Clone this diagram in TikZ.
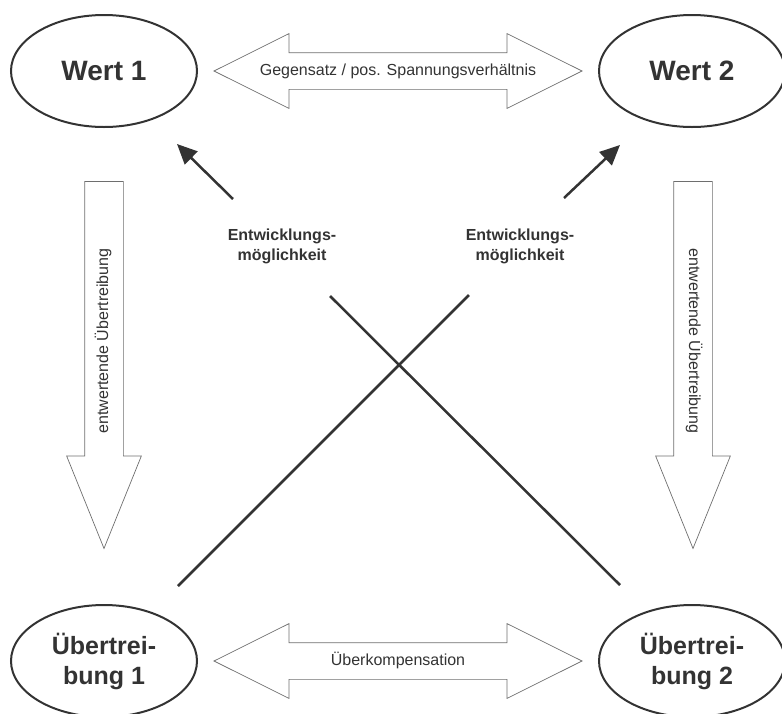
\documentclass[tikz,border=0pt]{standalone}
\usepackage{fontspec}
\setmainfont{Liberation Sans}
\usetikzlibrary{shapes,arrows.meta,calc,positioning}
\definecolor{ink}{HTML}{333333}
\definecolor{rim}{HTML}{6E6E6E}

\begin{document}
\begin{tikzpicture}[x=1pt, y=-1pt,
  wert/.style={ellipse, draw=ink, line width=2pt, minimum width=186pt, minimum height=112pt, inner sep=0pt, text=ink, font=\bfseries\fontsize{28}{30}\selectfont, align=center},
  twoway/.style={double arrow, draw=rim, line width=0.7pt, double arrow head extend=19pt, double arrow tip angle=53, minimum height=368pt, text height=12pt, text depth=4pt, inner ysep=10pt, inner xsep=0pt, text=ink, font=\fontsize{16}{18}\selectfont},
  oneway/.style={single arrow, draw=rim, line width=0.7pt, single arrow head extend=18pt, single arrow tip angle=44, minimum height=367pt, text height=12pt, text depth=4pt, inner ysep=11pt, inner xsep=0pt, text=ink, font=\fontsize{16}{18}\selectfont},
  hint/.style={text=ink, font=\bfseries\fontsize{16}{20}\selectfont, align=center},
  devel/.style={draw=ink, line width=2.5pt, -{Triangle[length=20pt,width=18pt]}},
  cross/.style={draw=ink, line width=2.5pt}]

  \useasboundingbox (0,0) rectangle (782,713);
  \clip (0,0) rectangle (782,713);

  % Werte
  \node[wert] (w1) at (104,71) {Wert 1};
  \node[wert] (w2) at (692,71) {Wert 2};

  % Uebertreibungen
  \node[wert, font=\bfseries\fontsize{25}{30}\selectfont] (u1) at (104,661) {Übertrei-\\bung 1};
  \node[wert, font=\bfseries\fontsize{25}{30}\selectfont] (u2) at (692,661) {Übertrei-\\bung 2};

  % Blockpfeile
  \node[twoway] (gs) at ($(w1)!0.5!(w2)$) {Gegensatz / pos. Spannungsverhältnis};
  \node[twoway] (uk) at ($(u1)!0.5!(u2)$) {Überkompensation};
  \node[oneway, rotate=90, shape border rotate=180] (ew1) at (104,341) {entwertende Übertreibung};
  \node[oneway, rotate=-90] (ew2) at (693,341) {entwertende Übertreibung};

  % Entwicklung
  \node[hint] (em1) at (282,246) {Entwicklungs-\\möglichkeit};
  \node[hint] (em2) at (520,246) {Entwicklungs-\\möglichkeit};

  \coordinate (d1) at (233,199);
  \coordinate (t1) at (177,144);
  \coordinate (d2) at (564,198);
  \coordinate (t2) at (620,145);
  \draw[devel] (d1) -- (t1);
  \draw[devel] (d2) -- (t2);

  % Kreuz
  \coordinate (a1) at (330,296);
  \coordinate (b1) at (620,585);
  \coordinate (a2) at (469,295);
  \coordinate (b2) at (178,586);
  \draw[cross] (a1) -- (b1);
  \draw[cross] (a2) -- (b2);

\end{tikzpicture}
\end{document}
